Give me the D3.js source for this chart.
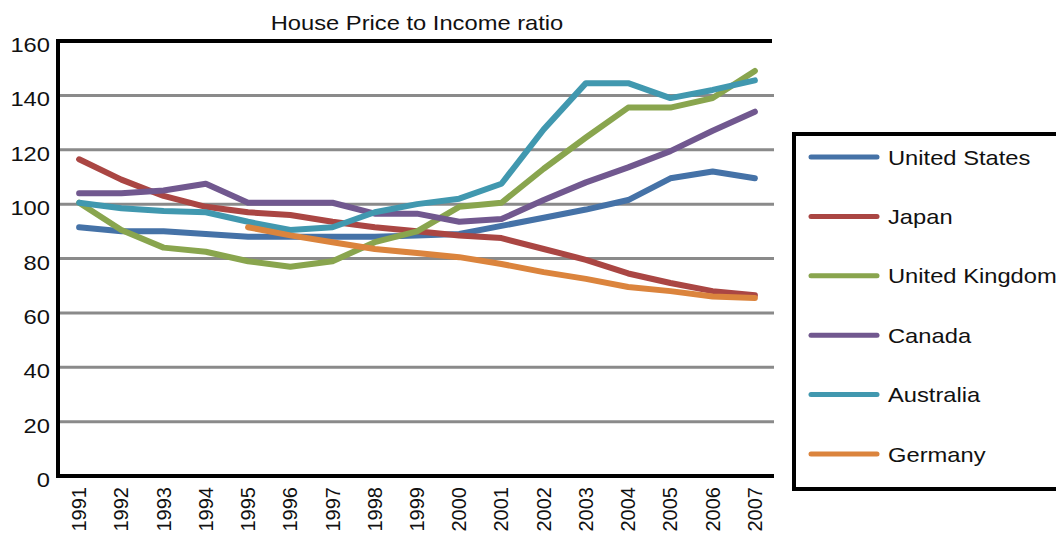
<!DOCTYPE html>
<html>
<head>
<meta charset="utf-8">
<script src="https://cdn.jsdelivr.net/npm/d3@7"></script>
<style>
  body { margin: 0; background: #fff; }
  text { font-family: "Liberation Sans", Arial, sans-serif; fill: #111; }
</style>
</head>
<body>
<script>
// chart values
const years = [1991, 1992, 1993, 1994, 1995, 1996, 1997, 1998, 1999,
               2000, 2001, 2002, 2003, 2004, 2005, 2006, 2007];
const countries = ["United States", "Japan", "United Kingdom", "Canada", "Australia", "Germany"];
const colors = ["#4572a7", "#aa4643", "#89a54e", "#71588f", "#4198af", "#db843d"];

const usValues      = [91.5, 90, 90, 89, 88, 88, 88, 88, 88.5, 89, 92, 95, 98, 101.5, 109.5, 112, 109.5];
const japanValues   = [116.5, 109, 103, 99, 97, 96, 93.5, 91.5, 90, 88.5, 87.5, 83.5, 79.5, 74.5, 71, 68, 66.5];
const ukValues      = [100.5, 90.5, 84, 82.5, 79, 77, 79, 86, 90, 99, 100.5, 113, 124.5, 135.5, 135.5, 139, 149];
const canadaValues  = [104, 104, 105, 107.5, 100.5, 100.5, 100.5, 96.5, 96.5, 93.5, 94.5, 101.5, 108, 113.5, 119.5, 127, 134];
const ausValues     = [100.5, 98.5, 97.5, 97, 93.5, 90.5, 91.5, 97, 100, 102, 107.5, 127.5, 144.5, 144.5, 139, 142, 145.5];
const germanyValues = [null, null, null, null, 91.5, 88.5, 86, 83.5, 82, 80.5, 78, 75, 72.5, 69.5, 68, 66, 65.5];

const seriesValues = [usValues, japanValues, ukValues, canadaValues, ausValues, germanyValues];
const yTicks = [0, 20, 40, 60, 80, 100, 120, 140, 160];
const title = "House Price to Income ratio";

const width = 1056, height = 535;
const plotLeft = 58, plotRight = 776, plotTop = 41, plotBottom = 476;
const stretch = 1.13;   // text in the picture is a bit wide

const svg = d3.select("body").append("svg")
    .attr("width", width)
    .attr("height", height);

const x = d3.scalePoint()
    .domain(years)
    .range([plotLeft, plotRight])
    .padding(0.5);

const y = d3.scaleLinear()
    .domain([0, 160])
    .range([plotBottom, plotTop]);

// grid lines
svg.append("g")
    .selectAll("line")
    .data(yTicks.filter(d => d > 0 && d < 160))
    .join("line")
    .attr("x1", plotLeft)
    .attr("x2", plotRight - 2)
    .attr("y1", d => y(d))
    .attr("y2", d => y(d))
    .attr("stroke", "#8a8a8a")
    .attr("stroke-width", 3);

// frame: top, left, bottom in black
svg.append("path")
    .attr("d", `M${plotRight - 4},${y(160)} H${plotLeft} V${y(0)} H${plotRight - 2}`)
    .attr("fill", "none")
    .attr("stroke", "#000")
    .attr("stroke-width", 4);

// y tick labels
svg.append("g")
    .selectAll("text")
    .data(yTicks)
    .join("text")
    .attr("transform", d => `translate(50,${y(d) + 11}) scale(${stretch},1)`)
    .attr("text-anchor", "end")
    .style("font-size", "21px")
    .text(d => d);

// x tick labels, rotated
svg.append("g")
    .selectAll("text")
    .data(years)
    .join("text")
    .attr("transform", d => `translate(${x(d) + 7},487) rotate(-90)`)
    .attr("text-anchor", "end")
    .style("font-size", "20px")
    .text(d => d);

// title
svg.append("text")
    .attr("transform", `translate(417,30) scale(${stretch},1)`)
    .attr("text-anchor", "middle")
    .style("font-size", "21px")
    .text(title);

// the lines
const line = d3.line()
    .defined(d => d.v != null)
    .x(d => x(d.year))
    .y(d => y(d.v));

svg.append("g")
    .selectAll("path")
    .data(seriesValues)
    .join("path")
    .attr("d", vals => line(vals.map((v, i) => ({ year: years[i], v: v }))))
    .attr("fill", "none")
    .attr("stroke", (d, i) => colors[i])
    .attr("stroke-width", 6)
    .attr("stroke-linejoin", "round")
    .attr("stroke-linecap", "round");

// legend
const legend = svg.append("g");
legend.append("rect")
    .attr("x", 794)
    .attr("y", 134)
    .attr("width", 300)
    .attr("height", 355)
    .attr("fill", "#fff")
    .attr("stroke", "#000")
    .attr("stroke-width", 4);

const rowY = d3.scalePoint()
    .domain(countries)
    .range([157, 454]);

const item = legend.selectAll("g.item")
    .data(countries)
    .join("g")
    .attr("class", "item")
    .attr("transform", d => `translate(0,${rowY(d)})`);

item.append("line")
    .attr("x1", 811)
    .attr("x2", 877)
    .attr("stroke", (d, i) => colors[i])
    .attr("stroke-width", 5)
    .attr("stroke-linecap", "round");

item.append("text")
    .attr("transform", `translate(888,7.5) scale(${stretch},1)`)
    .style("font-size", "21px")
    .text(d => d);
</script>
</body>
</html>
